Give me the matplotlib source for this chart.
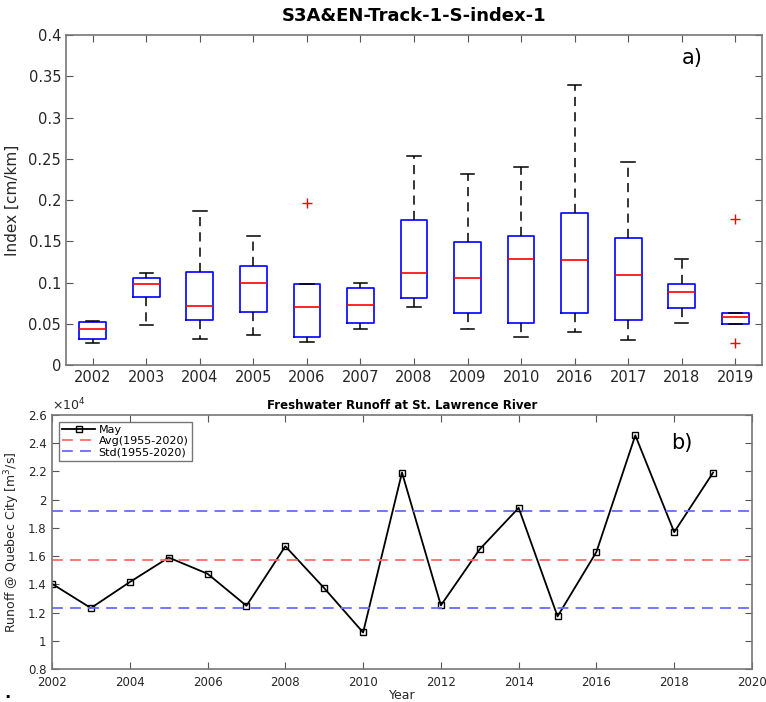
import numpy as np
import matplotlib
matplotlib.use("Agg")
import matplotlib.pyplot as plt
from matplotlib.ticker import FuncFormatter

# panel a) box statistics
years_box = ['2002', '2003', '2004', '2005', '2006', '2007', '2008',
             '2009', '2010', '2016', '2017', '2018', '2019']
whislo = [0.027, 0.049, 0.032, 0.036, 0.028, 0.044, 0.070, 0.044, 0.034, 0.040, 0.030, 0.051, 0.0497]
q1 = [0.031, 0.082, 0.054, 0.064, 0.0335, 0.051, 0.081, 0.063, 0.0505, 0.063, 0.055, 0.0695, 0.0497]
med = [0.0436, 0.098, 0.0715, 0.100, 0.0707, 0.0727, 0.112, 0.106, 0.128, 0.127, 0.1095, 0.088, 0.0586]
q3 = [0.052, 0.106, 0.113, 0.120, 0.098, 0.0937, 0.176, 0.149, 0.156, 0.184, 0.154, 0.098, 0.0626]
whishi = [0.0537, 0.112, 0.187, 0.156, 0.098, 0.100, 0.253, 0.232, 0.240, 0.340, 0.246, 0.128, 0.0626]
fliers = [[], [], [], [], [0.197], [], [], [], [], [], [], [], [0.177, 0.027]]

# panel b) May runoff
years = np.arange(2002, 2020)
runoff = [14040, 12320, 14160, 15900, 14750, 12480, 16700, 13730, 10590,
          21920, 12510, 16490, 19420, 11730, 16300, 24560, 17700, 21920]
avg = 15740
std = 3450

fig = plt.figure(figsize=(7.66, 7.02), dpi=100)
grey = '#262626'

ax1 = fig.add_axes([0.0862, 0.480, 0.9086, 0.470])
stats = []
for i in range(len(years_box)):
    stats.append(dict(med=med[i], q1=q1[i], q3=q3[i], whislo=whislo[i],
                      whishi=whishi[i], fliers=fliers[i], label=years_box[i]))
ax1.bxp(stats, widths=0.5, capwidths=0.25,
        boxprops=dict(color='#0000ff', lw=1.2),
        medianprops=dict(color='#ff0000', lw=1.2),
        whiskerprops=dict(color='k', ls=(0, (6, 4)), lw=1.1),
        capprops=dict(color='k', lw=1.1),
        flierprops=dict(marker='+', markeredgecolor='#ff0000', markersize=7, lw=0))
ax1.set_xlim(0.5, 13.5)
ax1.set_ylim(0, 0.4)
ax1.set_yticks(np.arange(0, 0.41, 0.05))
ax1.yaxis.set_major_formatter(FuncFormatter(lambda v, p: '%g' % round(v, 2)))
ax1.set_ylabel('Index [cm/km]', fontsize=11, color=grey, labelpad=6)
ax1.set_title('S3A&EN-Track-1-S-index-1', fontsize=13, fontweight='bold', pad=10)
ax1.text(0.9, 0.93, 'a)', transform=ax1.transAxes, fontsize=15, ha='center', va='center')
ax1.tick_params(direction='in', top=True, right=True, labelsize=10.5, labelcolor=grey,
                length=5, color='#555555')

ax2 = fig.add_axes([0.0679, 0.047, 0.9138, 0.3618])
ax2.plot(years, runoff, 'k-s', lw=1.3, markersize=5, markerfacecolor='none',
         markeredgewidth=1.0, label='May')
ax2.axhline(avg, color='#ff6a6a', ls=(0, (6, 4)), lw=1.3, label='Avg(1955-2020)')
ax2.axhline(avg + std, color='#6a6aff', ls=(0, (6, 4)), lw=1.3, label='Std(1955-2020)')
ax2.axhline(avg - std, color='#6a6aff', ls=(0, (6, 4)), lw=1.3)
ax2.set_xlim(2002, 2020)
ax2.set_ylim(8000, 26000)
ax2.set_xticks(np.arange(2002, 2021, 2))
ax2.set_yticks(np.arange(8000, 26001, 2000))
ax2.yaxis.set_major_formatter(FuncFormatter(lambda v, p: '%g' % round(v / 1e4, 2)))
ax2.text(0.0, 1.005, r'$\times10^4$', transform=ax2.transAxes, fontsize=9, color=grey,
         ha='left', va='bottom')
ax2.set_title('Freshwater Runoff at St. Lawrence River', fontsize=8.5, fontweight='bold', pad=4)
ax2.set_xlabel('Year', fontsize=9, color=grey, labelpad=0)
ax2.set_ylabel(r'Runoff @ Quebec City [m$^3$/s]', fontsize=9, color=grey)
ax2.text(0.9, 0.89, 'b)', transform=ax2.transAxes, fontsize=15, ha='center', va='center')
ax2.tick_params(direction='in', top=True, right=True, labelsize=8.5, labelcolor=grey,
                length=5, color='#555555')
ax2.tick_params(axis='x', pad=5)
ax2.tick_params(axis='y', pad=4)
leg = ax2.legend(loc='upper left', fontsize=8, frameon=True, fancybox=False,
                 borderpad=0.3, labelspacing=0.1, handlelength=3.0, handletextpad=0.3,
                 borderaxespad=0.6)
leg.get_frame().set_edgecolor('#555555')
leg.get_frame().set_linewidth(1.0)

for ax in (ax1, ax2):
    for s in ax.spines.values():
        s.set_color('#777777')
        s.set_linewidth(1.2)

fig.text(0.006, 0.005, '.', fontsize=12, fontweight='bold')
fig.savefig('out.png', dpi=100)
